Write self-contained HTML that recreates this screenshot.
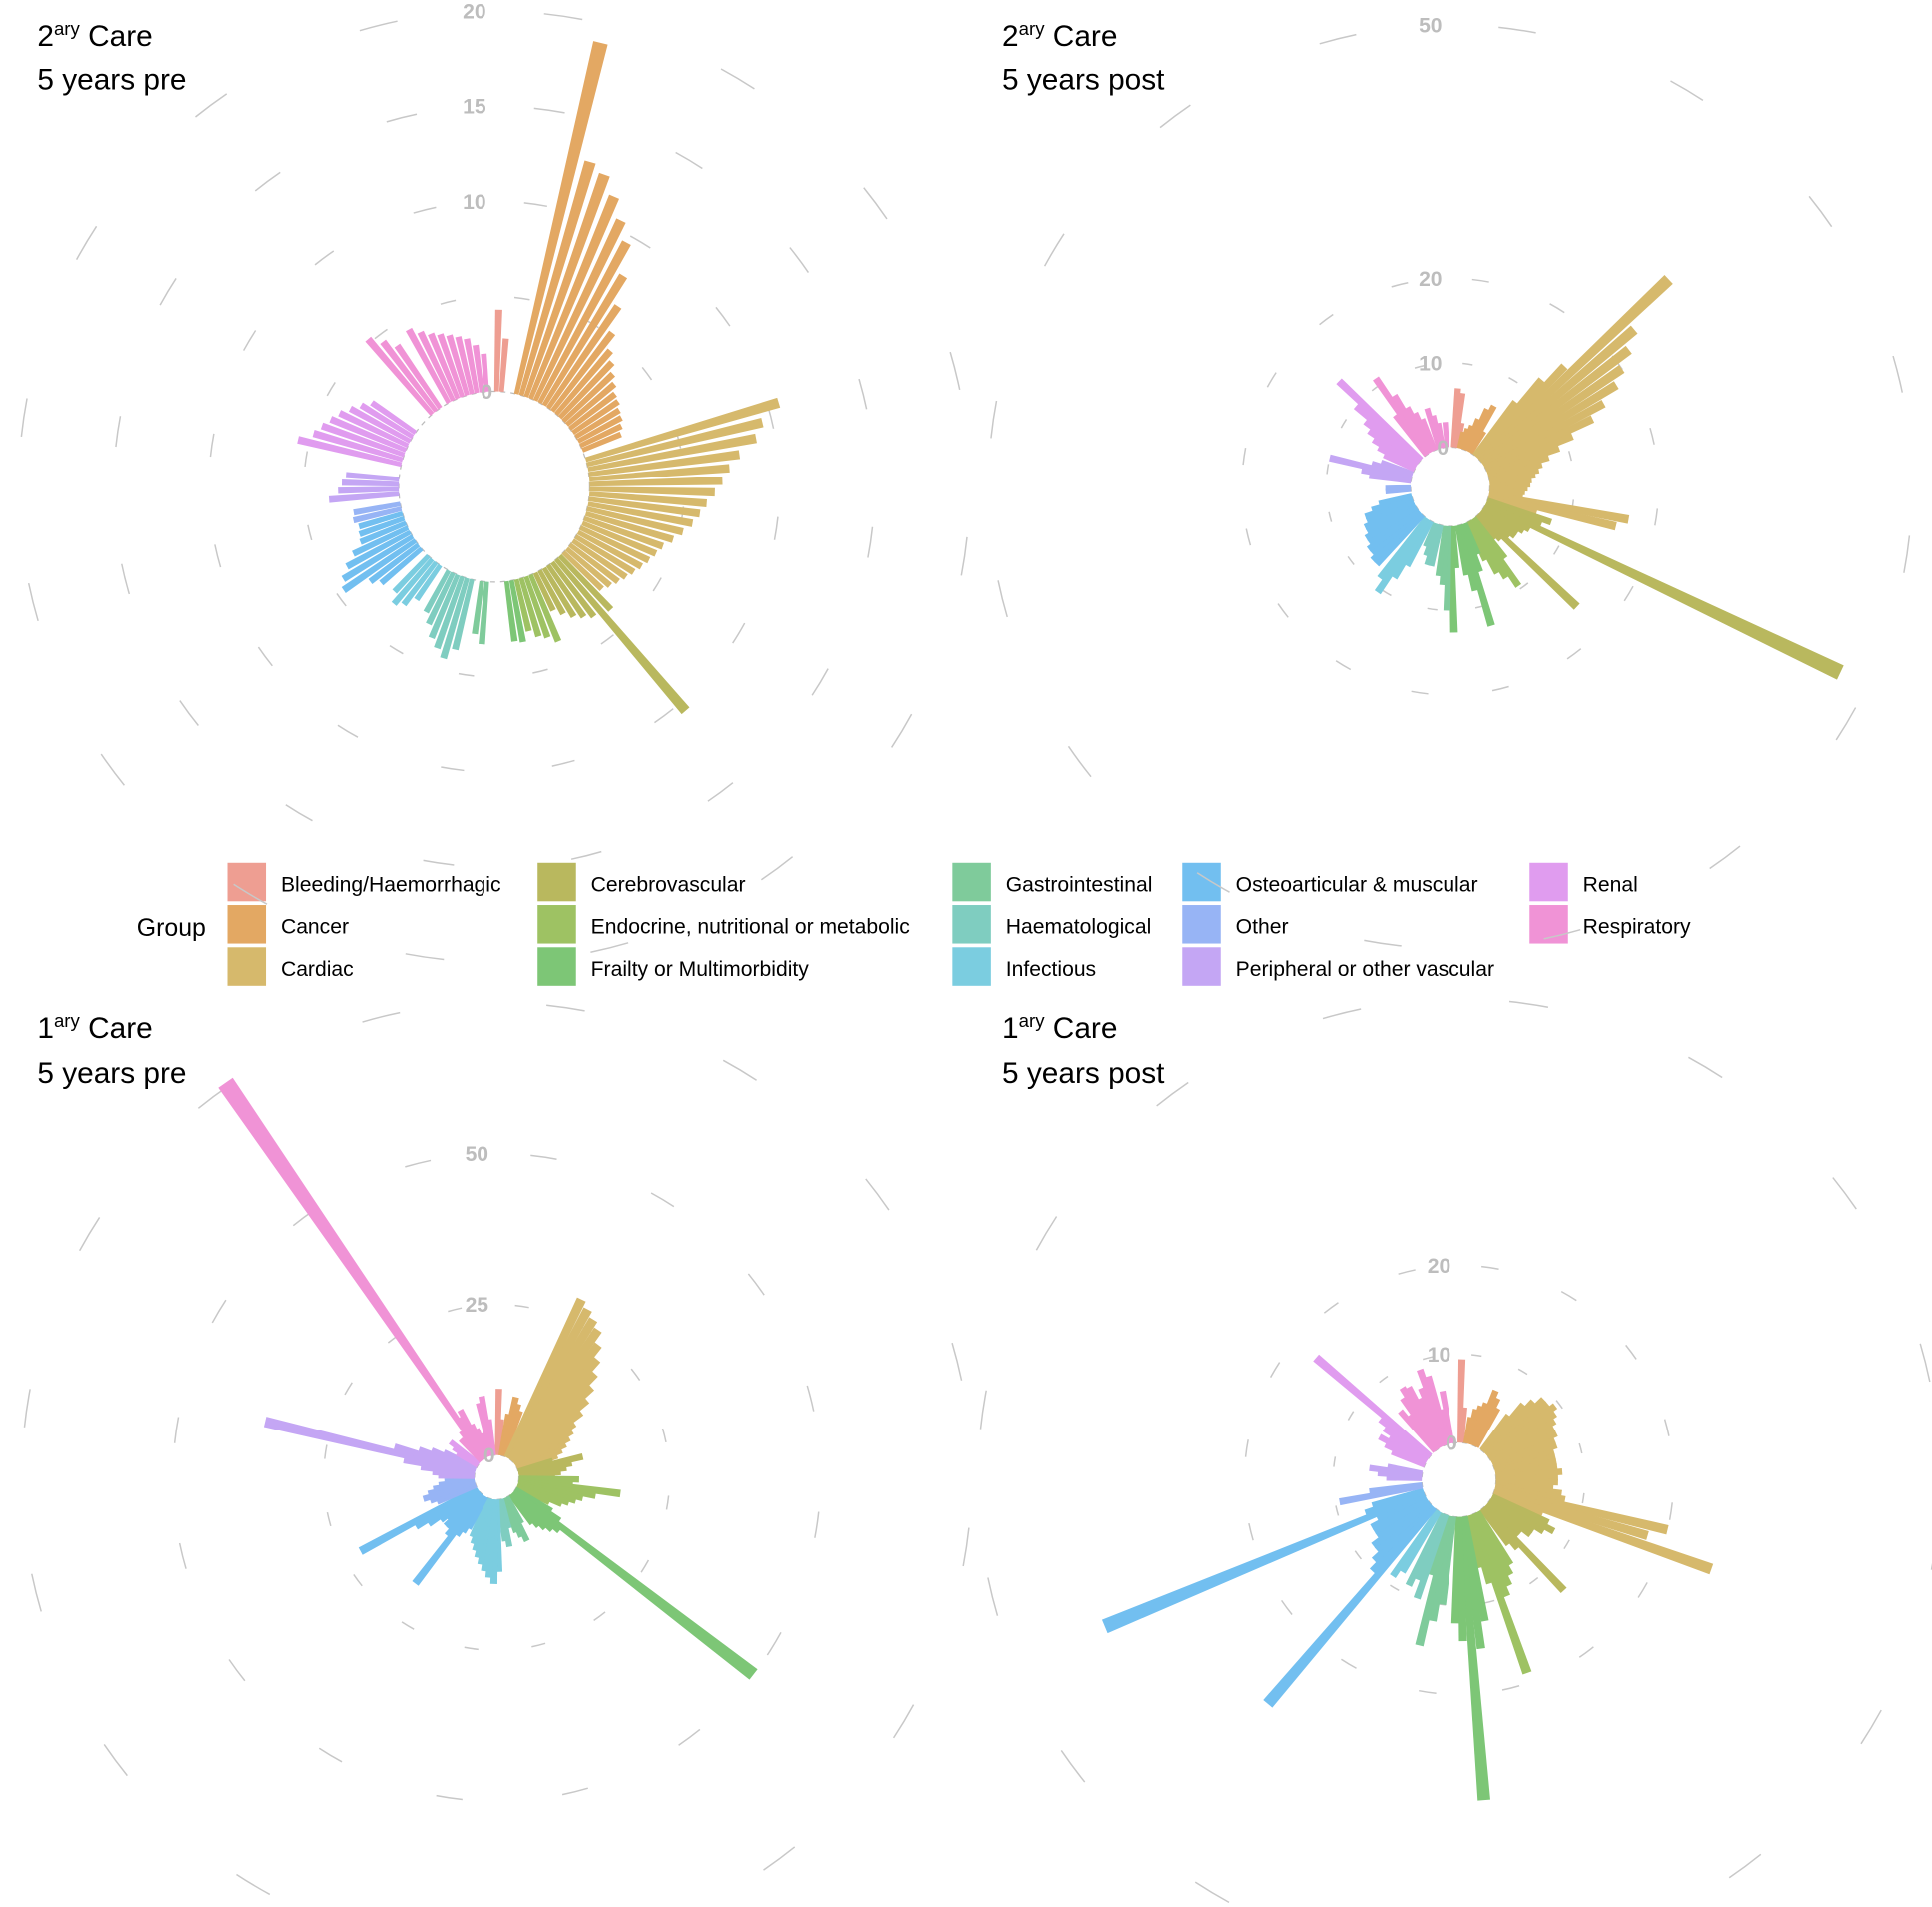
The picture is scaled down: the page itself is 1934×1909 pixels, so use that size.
<!DOCTYPE html>
<html><head><meta charset="utf-8"><style>
html,body{margin:0;padding:0;background:#fff;}
svg{display:block;font-family:"Liberation Sans",sans-serif;}
</style></head><body>
<svg id="chart" width="1934" height="1909" viewBox="0 0 1556 1536" xmlns="http://www.w3.org/2000/svg">
<g><text x="30" y="37" font-size="24">2<tspan dy="-9" font-size="15">ary</tspan><tspan dy="9"> Care</tspan></text><text x="30" y="72" font-size="24">5 years pre</text></g>
<g><text x="807" y="37" font-size="24">2<tspan dy="-9" font-size="15">ary</tspan><tspan dy="9"> Care</tspan></text><text x="807" y="72" font-size="24">5 years post</text></g>
<g><text x="30" y="836" font-size="24">1<tspan dy="-9" font-size="15">ary</tspan><tspan dy="9"> Care</tspan></text><text x="30" y="872" font-size="24">5 years pre</text></g>
<g><text x="807" y="836" font-size="24">1<tspan dy="-9" font-size="15">ary</tspan><tspan dy="9"> Care</tspan></text><text x="807" y="872" font-size="24">5 years post</text></g>
<g id="legend"><text x="110" y="754" font-size="20">Group</text></g>
</svg>
<script>
const groupNames=["Bleeding/Haemorrhagic","Cancer","Cardiac","Cerebrovascular","Endocrine, nutritional or metabolic","Frailty or Multimorbidity","Gastrointestinal","Haematological","Infectious","Osteoarticular & muscular","Other","Peripheral or other vascular","Renal","Respiratory"];
const groupColors=["#ee9e92","#e3a863","#d6b96c","#b9b85e","#9ec263","#7dc676","#7fcb9b","#7fcdc0","#7bcde0","#72bff0","#97b4f5","#c4a6f4","#e09cef","#f093d6"];
const secPreValues=[[4.3,2.8,0,0],[19,12.8,12.4,11.5,10.5,9.6,8,6.5,5.2,4.4,4,3.6,3.3,3,2.9,2.7,2.6,2.4,2.2,0],[10.6,9.5,9,8,7.4,7,6.6,6.2,5.9,5.6,5.2,4.8,4.4,4.2,4,3.8,3.6,3.4,3.2,3,2.8],[3.9,10.5,3.6,3.3,3,2.6,2.2],[3.8,3.4,3.2,2.8],[3.3,3.2,0,0],[0,3.3,2.8,0],[3.8,4.4,4,3.6,3,2.5],[0,2.2,2.8,3.1,2.6,0],[2.8,3.2,4.6,4.3,3.8,3.2,2.6,2.5,2.4],[2.6,2.5,0],[3.7,3.2,3,2.8,0,0],[5.6,4.9,4.6,4.3,4,3.6,3.2,2.8,0,0,0,0],[5.2,4.6,4,0,4.4,4,3.7,3.5,3.3,3.1,2.9,2.5,2,0]];
const secPostValues=[[0,7,6.5,3],[2,2.5,3,4,5.5,6.2,3,0],[8,12,15,31,24,22,20,18.4,16,14,11,9,7.5,6.5,6,5.5,5,4.8,4.5,4.2,4,16.8,15.5,6],[8,7,46.5,6,5.5,5,5,4.5,16,4,3.5],[6,9.6,8,7,5],[4,6,12.5,8,6,0,5,12.6],[10,7,6,0],[5,5,4,3,0],[6,8,10.5,9,0],[8,8,7.5,7.5,7,7,6.5,6.5,6,6,5,4,0,0],[3,3,0,0],[5,6,10,5,4,0],[4,5,6,7,8,10,13.5,0,0],[6,10.9,8,6,5,4,0,5,4,3,0,3,0]];
const priPreValues=[[11,6,0],[7,10,9,8,0],[29,28,27,26,24,22,20,18,16,14,12,11,10,9,8,7],[6,11,9,8,7,6],[10,9,17,13,11,10,9,8,6,0],[7,9,50,10,9,8,7,6,0,0],[5,8,7,6,0],[5,8,7,0],[12,14,13,12,11,10,9,8,7,0],[6,7,8,18.5,9,8,8,7,8,10,12,22,0],[7,8,9,8,7,6,5,0],[6,7,9,12,35.8,14,10,8,6,0],[4,5,6,0,0],[5,4,6,75.7,8,9,6,5,4,0,9,10,6,0,0]];
const priPostValues=[[9.4,4,0],[3,4,4.5,5,6.7,6,5,0,0],[5,7,8,9,9,9.5,9,8.5,8,8,7.5,7.5,7,7,7,7,7.5,7,7,6.5,7.5,8,20,18,26,6],[7,8,7,6,6,5,5,13,6,5,0],[7,8,9,10,18.9,8,6],[12,15,32,14,12,0],[10,12,15,7],[10,8,9,0],[8,9,0],[29,10,9,8,8,7,7,7,6,39,7,6,0],[9.5,6,0,0],[4,5,6,4,0,0,0],[4,5,6,5,6,7,17,0,0],[6,5,7,8,7.7,6,7,9,8,4,6,0,0,0]];
const secPreTicks=[0,10,15,20];
const secPreRings=[5,10,15,20];
const secPostTicks=[0,10,20,50];
const secPostRings=[10,20,50];
const priPreTicks=[0,25,50];
const priPreRings=[25,50,75];
const priPostTicks=[0,10,20];
const priPostRings=[10,20,50];

const NS="http://www.w3.org/2000/svg";
const svg=document.getElementById('chart');
function mk(tag,attrs,parent){const e=document.createElementNS(NS,tag);for(const k in attrs)e.setAttribute(k,attrs[k]);parent.appendChild(e);return e;}

function drawPanel(name,vals,ticks,rings,cx,cy,r0,k){
  const g=mk('g',{},svg);
  
  
  const rad=v=>r0+k*v;
  rings.forEach(v=>{
    const c=mk('circle',{cx:cx,cy:cy,r:rad(v),fill:'none',stroke:'#c8c8c8','stroke-width':1.2,pathLength:100,'stroke-dasharray':'1.3 4.95','stroke-dashoffset':-1.7},g);
    
    
  });
  const base=mk('circle',{cx:cx,cy:cy,r:r0,fill:'none',stroke:'#bbb','stroke-width':1,'stroke-dasharray':'4 4'},g);
  
  
  let N=0;vals.forEach(a=>N+=a.length);
  const step=360/N;let idx=0;
  vals.forEach((arr,gi)=>{
    arr.forEach(v=>{
      const a=(idx+0.5)*step*Math.PI/180;idx++;
      if(v<=0)return;
      const r1=rad(v);const len=r1-r0;
      const w0=3.8,w1=3.8+len*0.028;
      const sx=Math.sin(a),sy=-Math.cos(a),px=Math.cos(a),py=Math.sin(a);
      const pts=[[cx+sx*r0-px*w0/2,cy+sy*r0-py*w0/2],[cx+sx*r1-px*w1/2,cy+sy*r1-py*w1/2],[cx+sx*r1+px*w1/2,cy+sy*r1+py*w1/2],[cx+sx*r0+px*w0/2,cy+sy*r0+py*w0/2]];
      const p=mk('polygon',{points:pts.map(q=>q[0].toFixed(1)+','+q[1].toFixed(1)).join(' '),fill:groupColors[gi]},g);
      
      
    });
  });
  ticks.forEach(v=>{
    const t=mk('text',{x:cx-6-(String(v).length-1)*10,y:cy-rad(v)+6,'font-size':17,'font-weight':'bold',fill:'#bdbdbd','text-anchor':'middle'},g);
    t.textContent=v;
    
    
  });
}
drawPanel('chart-secondary-pre',secPreValues,secPreTicks,secPreRings,398,392,77,15.3);
drawPanel('chart-secondary-post',secPostValues,secPostTicks,secPostRings,1168,392,32,6.8);
drawPanel('chart-primary-pre',priPreValues,priPreTicks,priPreRings,400,1190,18,4.86);
drawPanel('chart-primary-post',priPostValues,priPostTicks,priPostRings,1175,1192,30,7.15);

const leg=document.getElementById('legend');
const colX=[183,183,183,433,433,433,767,767,767,952,952,952,1232,1232];
const rowY=[695,729,763];
groupNames.forEach((n,i)=>{
  const x=colX[i],y=rowY[i%3];
  const e=mk('g',{},leg);
  
  
  mk('rect',{x:x,y:y,width:31,height:31,fill:groupColors[i]},e);
  const t=mk('text',{x:x+43,y:y+23,'font-size':17},e);
  t.textContent=n;
});
</script>
</body></html>
